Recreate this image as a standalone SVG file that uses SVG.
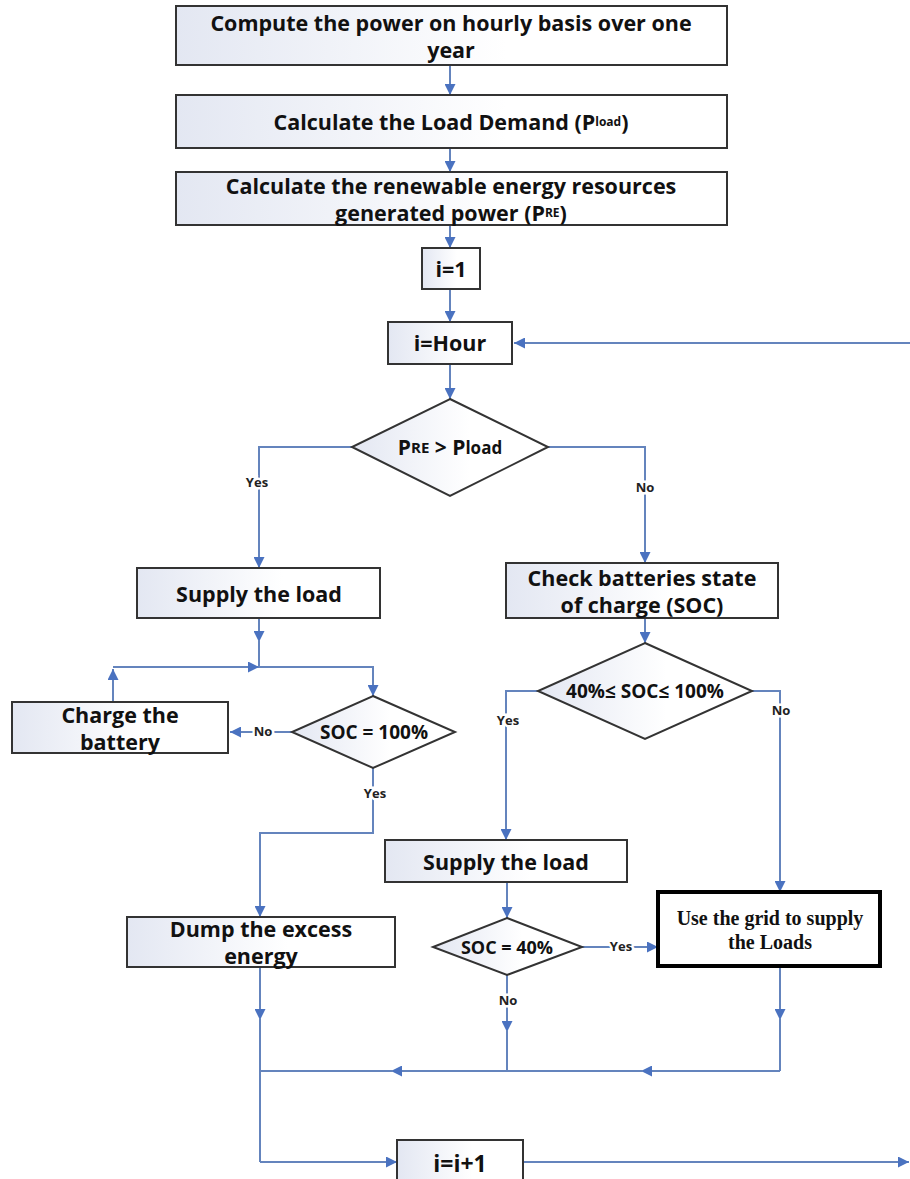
<svg xmlns="http://www.w3.org/2000/svg" width="910" height="1179" viewBox="0 0 910 1179">
<style>
.box{fill:url(#g);stroke:#333;stroke-width:2}
.dia{fill:url(#g);stroke:#333;stroke-width:2}
.t{font-family:"Open Sans",Lato,"Liberation Sans",sans-serif;font-weight:bold;font-size:21.5px;fill:#111;text-anchor:middle;dominant-baseline:central}
.lb{font-family:"Open Sans",Lato,"Liberation Sans",sans-serif;font-weight:bold;font-size:13px;fill:#222;text-anchor:middle;dominant-baseline:central;stroke:#fff;stroke-width:5;paint-order:stroke}
.c{fill:none;stroke:#6484bd;stroke-width:2}
.a{marker-end:url(#ah)}
.s{font-size:12px}
.gt{font-family:"Liberation Serif",serif;font-weight:bold;font-size:20px;text-anchor:middle;dominant-baseline:central;fill:#111}
</style>
<defs>
<linearGradient id="g" x1="0" y1="0" x2="1" y2="0">
<stop offset="0" stop-color="#e3e7f2"/>
<stop offset="0.6" stop-color="#ffffff"/>
</linearGradient>
<marker id="ah" viewBox="0 0 10 10" refX="10" refY="5" markerWidth="11" markerHeight="11" markerUnits="userSpaceOnUse" orient="auto">
<path d="M0,0 L10,5 L0,10 Z" fill="#4a72c0"/>
</marker>
</defs>

<g id="connectors">
<line class="c a" x1="450" y1="65" x2="450" y2="95"/>
<line class="c a" x1="450" y1="148" x2="450" y2="172"/>
<line class="c a" x1="450" y1="225" x2="450" y2="248"/>
<line class="c a" x1="450" y1="289" x2="450" y2="322"/>
<line class="c a" x1="910" y1="343" x2="514" y2="343"/>
<line class="c a" x1="450" y1="364" x2="450" y2="399"/>
<path class="c a" d="M352,447 H259 V568"/>
<path class="c a" d="M548,447 H645 V563"/>
<line class="c a" x1="259" y1="618" x2="259" y2="642"/>
<line class="c" x1="259" y1="640" x2="259" y2="667"/>
<line class="c a" x1="113" y1="702" x2="113" y2="669"/>
<line class="c a" x1="113" y1="667" x2="259" y2="667"/>
<path class="c a" d="M259,667 H373 V696"/>
<line class="c a" x1="292" y1="732" x2="230" y2="732"/>
<path class="c a" d="M373,768 V833 H260 V917"/>
<line class="c a" x1="645" y1="618" x2="645" y2="643"/>
<path class="c a" d="M538,691 H506 V840"/>
<path class="c a" d="M752,691 H780 V892"/>
<line class="c a" x1="507" y1="882" x2="507" y2="918"/>
<line class="c a" x1="582" y1="947" x2="658" y2="947"/>
<line class="c a" x1="780" y1="966" x2="780" y2="1020"/>
<line class="c" x1="780" y1="1018" x2="780" y2="1071"/>
<line class="c a" x1="507" y1="975" x2="507" y2="1032"/>
<line class="c" x1="507" y1="1030" x2="507" y2="1071"/>
<line class="c a" x1="260" y1="967" x2="260" y2="1020"/>
<line class="c" x1="260" y1="1018" x2="260" y2="1162"/>
<line class="c a" x1="780" y1="1071" x2="641" y2="1071"/>
<line class="c a" x1="643" y1="1071" x2="391" y2="1071"/>
<line class="c" x1="393" y1="1071" x2="260" y2="1071"/>
<line class="c a" x1="260" y1="1162" x2="397" y2="1162"/>
<line class="c a" x1="523" y1="1162" x2="909" y2="1162"/>
<text class="lb" x="257" y="482">Yes</text>
<text class="lb" x="645" y="487">No</text>
<text class="lb" x="263" y="731">No</text>
<text class="lb" x="375" y="793">Yes</text>
<text class="lb" x="508" y="720">Yes</text>
<text class="lb" x="781" y="710">No</text>
<text class="lb" x="621" y="946">Yes</text>
<text class="lb" x="508" y="1000">No</text>
</g>

<g id="n1"><rect class="box" x="176" y="6" width="551" height="59"/>
<text class="t" x="451" y="22">Compute the power on hourly basis over one</text>
<text class="t" x="451" y="49">year</text></g>

<g id="n2"><rect class="box" x="176" y="95" width="551" height="53"/>
<text class="t" x="451" y="121">Calculate the Load Demand (P<tspan class="s">load</tspan>)</text></g>

<g id="n3"><rect class="box" x="176" y="172" width="551" height="53"/>
<text class="t" x="451" y="185">Calculate the renewable energy resources</text>
<text class="t" x="451" y="212">generated power (P<tspan class="s">RE</tspan>)</text></g>

<g id="n4"><rect class="box" x="422" y="248" width="58" height="41"/>
<text class="t" x="451" y="268">i=1</text></g>

<g id="n5"><rect class="box" x="388" y="322" width="124" height="42"/>
<text class="t" x="450" y="342">i=Hour</text></g>

<g id="d1"><polygon class="dia" points="450,399 548,447 450,496 352,447"/>
<text class="t" x="450" y="447" style="font-size:21px">P<tspan style="font-size:15px">RE</tspan> &gt; P<tspan style="font-size:17px">load</tspan></text></g>

<g id="n6"><rect class="box" x="137" y="568" width="243" height="50"/>
<text class="t" x="259" y="593">Supply the load</text></g>

<g id="n7"><rect class="box" x="506" y="563" width="272" height="55"/>
<text class="t" x="642" y="577">Check batteries state</text>
<text class="t" x="642" y="604">of charge (SOC)</text></g>

<g id="n8"><rect class="box" x="12" y="702" width="216" height="51"/>
<text class="t" x="120" y="714">Charge the</text>
<text class="t" x="120" y="741">battery</text></g>

<g id="d2"><polygon class="dia" points="373,696 455,732 373,768 292,732"/>
<text class="t" x="374" y="732" style="font-size:19px">SOC = 100%</text></g>

<g id="d3"><polygon class="dia" points="645,643 752,691 645,739 538,691"/>
<text class="t" x="645" y="691" style="font-size:19px">40%≤ SOC≤ 100%</text></g>

<g id="n9"><rect class="box" x="127" y="917" width="268" height="50"/>
<text class="t" x="261" y="928">Dump the excess</text>
<text class="t" x="261" y="955">energy</text></g>

<g id="n10"><rect class="box" x="385" y="840" width="242" height="42"/>
<text class="t" x="506" y="861">Supply the load</text></g>

<g id="d4"><polygon class="dia" points="507,918 582,947 507,975 433,947"/>
<text class="t" x="507" y="947" style="font-size:18px">SOC = 40%</text></g>

<g id="n11"><rect x="658" y="892" width="222" height="74" fill="#fff" stroke="#000" stroke-width="4"/>
<text class="gt" x="770" y="918">Use the grid to supply</text>
<text class="gt" x="770" y="942">the Loads</text></g>

<g id="n12"><rect class="box" x="397" y="1140" width="126" height="48"/>
<text class="t" x="460" y="1163" style="font-size:23px">i=i+1</text></g>
</svg>
